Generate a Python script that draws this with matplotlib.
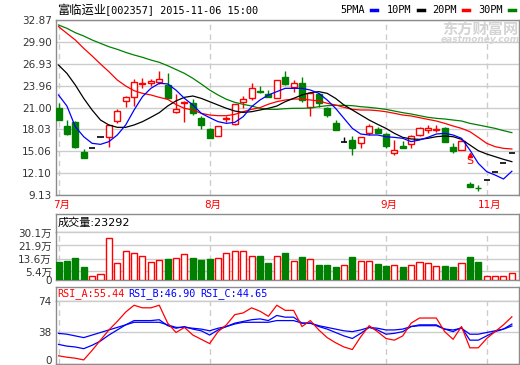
import matplotlib
matplotlib.use("Agg")
import matplotlib.pyplot as plt
import matplotlib.transforms as mtransforms
from matplotlib.lines import Line2D
import numpy as np

plt.rcParams['font.family'] = ['DejaVu Sans', 'Noto Sans CJK SC']

W, H = 520, 365
RED = "#ff0000"
GRN = "#008000"
BLU = "#0000ff"
GRID = "#cccccc"
FRAME = "#8c8c8c"

# daily K-line, 2015-07 .. 2015-11-06
opens = [20.89, 18.49, 19.08, 15.01, 15.51, 16.95, 17.04, 19.21, 21.93, 22.47,
         24.19, 24.32, 24.50, 24.05, 20.43, 21.66, 21.66, 19.53, 18.04, 17.18,
         19.39, 18.72, 21.79, 22.33, 23.28, 22.79, 22.24, 25.09, 23.74, 24.37,
         21.02, 22.83, 20.89, 18.85, 16.27, 16.59, 16.14, 17.50, 18.08, 17.40,
         14.78, 15.78, 16.05, 17.27, 17.95, 17.99, 18.17, 15.60, 15.23, 10.62,
         10.12, 11.13, 12.24, 13.46, 14.81]
closes = [19.30, 17.36, 15.69, 14.10, 15.51, 16.95, 18.58, 20.52, 22.47, 24.50,
          24.28, 24.59, 24.87, 22.33, 20.75, 21.79, 20.30, 18.63, 16.91, 18.54,
          19.53, 21.43, 22.11, 23.69, 23.15, 22.47, 24.73, 24.14, 24.28, 22.02,
          23.01, 21.57, 19.98, 17.95, 16.27, 15.55, 16.95, 18.54, 17.59, 15.78,
          15.23, 15.55, 17.13, 18.17, 18.17, 18.13, 16.37, 15.14, 16.50, 10.26,
          10.08, 11.13, 12.24, 13.46, 14.81]
highs = [21.56, 19.30, 19.17, 15.32, 15.51, 16.95, 18.58, 20.75, 22.51, 24.82,
         24.96, 24.87, 25.99, 25.72, 22.83, 21.88, 22.11, 19.89, 18.17, 18.54,
         19.89, 21.43, 22.56, 24.37, 23.96, 23.37, 24.73, 25.95, 24.73, 25.09,
         23.15, 22.92, 21.11, 19.30, 16.95, 17.13, 16.95, 18.76, 18.31, 17.50,
         16.59, 16.50, 17.27, 18.40, 18.63, 18.63, 18.31, 16.23, 16.59, 10.94,
         10.49, 11.13, 12.24, 13.46, 14.81]
lows = [19.30, 17.27, 15.55, 14.10, 15.51, 16.95, 15.69, 18.94, 21.02, 21.20,
        23.69, 23.92, 24.19, 22.33, 20.21, 19.08, 20.00, 18.08, 16.82, 17.18,
        19.08, 18.63, 20.98, 22.02, 23.01, 22.38, 22.24, 24.05, 23.15, 21.79,
        19.89, 21.02, 19.67, 17.95, 16.27, 14.56, 15.55, 17.27, 17.50, 15.46,
        14.56, 15.46, 15.46, 17.13, 17.50, 17.63, 16.37, 14.87, 15.23, 10.26,
        9.72, 11.13, 12.24, 13.46, 14.81]

ma5 = [22.70, 21.20, 18.40, 17.04, 16.14, 16.00, 16.37, 17.27, 18.63, 20.66,
       22.47, 23.60, 24.28, 24.20, 23.35, 22.24, 21.34, 20.21, 19.62, 19.08,
       18.85, 18.99, 19.76, 21.11, 22.02, 22.70, 23.15, 23.60, 23.60, 23.60,
       23.37, 22.92, 22.02, 20.89, 19.53, 18.17, 17.40, 17.27, 17.27, 17.04,
       16.95, 16.82, 16.37, 16.59, 16.95, 17.40, 17.50, 17.27, 16.82, 15.23,
       13.43, 12.30, 11.84, 11.30, 12.35]
ma10 = [26.76, 25.63, 24.05, 22.24, 20.66, 19.30, 18.63, 18.31, 18.31, 18.63,
        19.08, 19.67, 20.30, 21.20, 21.90, 22.38, 22.56, 22.24, 21.79, 21.34,
        20.89, 20.52, 20.34, 20.43, 20.66, 20.89, 21.20, 21.79, 22.24, 22.70,
        23.01, 23.15, 22.92, 22.24, 21.34, 20.66, 19.98, 19.30, 18.72, 18.17,
        17.50, 16.95, 16.73, 16.68, 16.82, 17.04, 17.13, 17.04, 16.68, 15.91,
        15.14, 14.69, 14.33, 13.97, 13.65]
ma20 = [31.97, 31.06, 30.16, 29.03, 27.99, 26.90, 25.86, 24.73, 23.92, 23.28,
        22.92, 22.70, 22.38, 22.11, 21.40, 20.89, 20.66, 20.21, 19.98, 19.89,
        19.89, 20.07, 20.43, 20.75, 20.98, 21.45, 21.79, 22.02, 22.15, 22.15,
        22.02, 21.88, 21.57, 21.34, 21.02, 20.75, 20.66, 20.66, 20.57, 20.43,
        20.21, 19.98, 19.85, 19.62, 19.39, 19.17, 18.85, 18.49, 18.17, 17.72,
        16.95, 16.14, 15.69, 15.46, 15.37]
ma30 = [32.19, 31.74, 31.15, 30.70, 30.16, 29.70, 29.25, 28.89, 28.48, 28.12,
        27.81, 27.44, 27.13, 26.67, 26.15, 25.63, 24.96, 24.19, 23.37, 22.70,
        22.11, 21.70, 21.43, 21.20, 20.89, 20.75, 20.75, 20.84, 20.89, 20.89,
        20.93, 21.11, 21.25, 21.29, 21.29, 21.25, 21.11, 21.02, 20.89, 20.75,
        20.52, 20.30, 20.12, 19.89, 19.67, 19.53, 19.44, 19.30, 19.17, 18.85,
        18.63, 18.40, 18.17, 17.86, 17.59]

# volume, in 万
vol = [11.1, 12.2, 13.7, 8.3, 2.3, 3.6, 26.7, 10.9, 18.4, 17.3,
       15.2, 11.5, 12.6, 13.5, 13.9, 16.7, 14.1, 12.8, 13.5, 13.9,
       17.1, 18.4, 18.4, 15.4, 15.4, 10.5, 15.4, 16.9, 12.2, 14.7,
       13.5, 9.6, 9.6, 8.3, 9.6, 14.7, 11.8, 12.2, 10.3, 9.0,
       9.6, 8.3, 9.4, 11.5, 10.9, 8.8, 9.0, 8.3, 10.5, 14.7,
       11.1, 2.4, 2.4, 2.4, 4.5]

rsi_a = [9.6, 8.0, 6.8, 4.8, 16, 28, 40, 50, 61, 69, 66, 66, 69, 48, 37, 43, 34, 29, 24, 38,
         46, 58, 60, 66, 62, 56, 69, 63, 63, 44, 51, 40, 31, 25, 20, 17, 32, 45, 38, 30,
         28, 33, 48, 54, 54, 54, 38, 29, 44, 19, 19, 30, 38, 46, 55.44]
rsi_b = [23, 21, 20, 18, 22, 27, 34, 40, 46, 51, 51, 51, 52, 45, 42, 44, 41, 39, 34, 40,
         44, 48, 50, 52, 53, 51, 57, 55, 55, 48, 48, 44, 41, 37, 33, 30, 36, 43, 40, 35,
         36, 38, 44, 46, 46, 46, 41, 38, 43, 28, 28, 33, 38, 41, 46.90]
rsi_c = [36, 35, 33, 31, 34, 37, 40, 43, 46, 49, 49, 49, 49, 46, 43, 43, 42, 41, 39, 42,
         44, 47, 49, 49, 49, 49, 51, 51, 51, 48, 48, 45, 43, 41, 39, 38, 40, 43, 42, 40,
         40, 41, 44, 45, 45, 45, 41, 40, 42, 35, 35, 37, 39, 41, 44.65]

price_ticks = [9.13, 12.10, 15.06, 18.03, 21.00, 23.96, 26.93, 29.90, 32.87]
vol_ticks = [0, 5.4, 13.6, 21.9, 30.1]
vol_labels = ["0", "5.4万", "13.6万", "21.9万", "30.1万"]
rsi_ticks = [0, 38, 74]
month_pos = [0, 18, 39, 51]
month_lab = ["7月", "8月", "9月", "11月"]
signal_idx, signal_price = 49, 13.75

x = np.arange(len(closes))
XLIM = (-0.3, 54.85)

fig = plt.figure(figsize=(W / 100, H / 100), dpi=100)


def box(x0, y0, x1, y1):
    ax = fig.add_axes([x0 / W, 1 - y1 / H, (x1 - x0) / W, (y1 - y0) / H])
    for s in ax.spines.values():
        s.set_color(FRAME); s.set_linewidth(1)
    ax.tick_params(length=0, labelsize=7.5, pad=3, labelcolor="#333333")
    ax.set_xticks([])
    ax.set_xlim(*XLIM)
    return ax


def months(ax):
    for m in month_pos:
        ax.axvline(m, color=GRID, ls=(0, (4, 3)), lw=1, zorder=0)


# --- price panel ---
ax = box(56, 20, 519, 195)
ax.set_ylim(9.13, 32.87)
ax.set_yticks(price_ticks)
ax.set_yticklabels([f"{t:.2f}" for t in price_ticks])
ax.yaxis.grid(True, color=GRID, lw=1)
ax.set_axisbelow(True)
months(ax)

for i in x:
    o, c, h, l = opens[i], closes[i], highs[i], lows[i]
    if o == c:
        col = "black"
        ax.vlines(i, l, h, color=col, lw=1, zorder=2)
        ax.hlines(c, i - 0.36, i + 0.36, color=col, lw=1.2, zorder=3)
        continue
    col = RED if c > o else GRN
    ax.vlines(i, l, h, color=col, lw=1, zorder=2)
    ax.bar(i, c - o, bottom=o, width=0.72, zorder=3,
           facecolor="white" if c > o else GRN, edgecolor=col, lw=1)

for ma, col in [(ma30, GRN), (ma20, RED), (ma10, "black"), (ma5, BLU)]:
    ax.plot(x, ma, color=col, lw=0.9, zorder=4)

ax.text(signal_idx, signal_price, "S", color=RED, fontsize=8, ha="center", va="center", zorder=5)
ax.plot(signal_idx, signal_price + 0.8, marker="^", color=RED, ms=3, zorder=5)

for m, lab in zip(month_pos, month_lab):
    ax.text(m + 0.4, -0.058, lab, transform=ax.get_xaxis_transform(), color=RED,
            fontsize=7.5, ha="center", va="center", family=["DejaVu Sans", "Noto Sans CJK SC"])

# watermark
fig.text(480 / W, 1 - 29 / H, "东方财富网", color="#d4d4d4", fontsize=11, fontweight="bold",
         ha="center", va="center", family=["Noto Sans CJK SC"])
fig.text(480 / W, 1 - 40 / H, "eastmoney.com", color="#d4d4d4", fontsize=6.5, fontweight="bold",
         style="italic", ha="center", va="center")

# header
fig.text(57 / W, 1 - 10 / H, "富临运业", fontsize=8.8, va="center", family=["Noto Sans CJK SC"])
fig.text(105 / W, 1 - 10 / H, "[002357] 2015-11-06 15:00", fontsize=7.4, va="center",
         family=["DejaVu Sans Mono"])
legend = [("5PMA", 340, BLU), ("10PM", 387, "black"), ("20PM", 432, RED), ("30PM", 478, GRN)]
for lab, px, col in legend:
    fig.text(px / W, 1 - 10 / H, lab, fontsize=7.4, va="center", family=["DejaVu Sans Mono"])
    sx = px + 31
    fig.add_artist(Line2D([sx / W, (sx + 6) / W], [1 - 10 / H] * 2, color=col, lw=2.5,
                          transform=fig.transFigure))

# --- volume ---
axh = box(56, 214, 519, 232)
axh.set_yticks([])
axh.text(0.003, 0.5, "成交量:23292", transform=axh.transAxes, fontsize=8, va="center")

axv = box(56, 232, 519, 280)
axv.spines["top"].set_visible(False)
axv.set_ylim(0, 30.4)
axv.set_yticks(vol_ticks)
axv.set_yticklabels(vol_labels)
axv.yaxis.grid(True, color=GRID, lw=1)
axv.set_axisbelow(True)
months(axv)
up = [c >= o for o, c in zip(opens, closes)]
axv.bar(x, vol, width=0.72, facecolor=["white" if u else GRN for u in up],
        edgecolor=[RED if u else GRN for u in up], lw=1, zorder=3)

# --- RSI ---
axrh = box(56, 287, 519, 301)
axrh.set_yticks([])
for lab, px, col in [("RSI_A:55.44", 57, RED), ("RSI_B:46.90", 128, BLU), ("RSI_C:44.65", 200, BLU)]:
    fig.text(px / W, 1 - 294 / H, lab, color=col, fontsize=7.3, va="center",
             family=["DejaVu Sans Mono"])

axr = box(56, 301, 519, 364)
axr.spines["top"].set_visible(False)
axr.set_ylim(0, 74)
axr.set_yticks(rsi_ticks)
axr.yaxis.grid(True, color=GRID, lw=1)
axr.set_axisbelow(True)
months(axr)
axr.plot(x, rsi_c, color=BLU, lw=0.9)
axr.plot(x, rsi_b, color=BLU, lw=0.9)
axr.plot(x, rsi_a, color=RED, lw=0.9)
# keep the bottom "0" label inside the canvas
lab0 = axr.get_yticklabels()[0]
lab0.set_transform(lab0.get_transform() + mtransforms.ScaledTranslation(0, 4 / 100, fig.dpi_scale_trans))

fig.savefig("out.png", dpi=100, facecolor="white")
